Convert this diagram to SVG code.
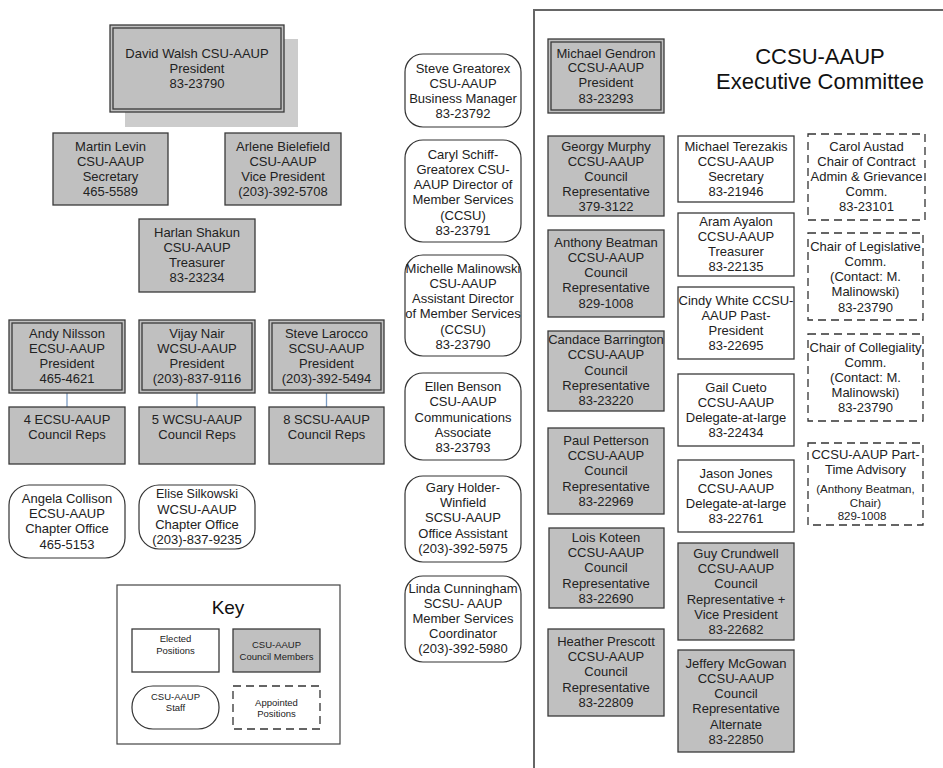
<svg xmlns="http://www.w3.org/2000/svg" width="943" height="768" viewBox="0 0 943 768">
<style>
text{font-family:"Liberation Sans",Arial,sans-serif;font-size:13px;fill:#222;text-anchor:middle}
.box{fill:#c0c0c0;stroke:#3a3a3a;stroke-width:1.3}
.wbox{fill:#fff;stroke:#3a3a3a;stroke-width:1.3}
.inner{fill:none;stroke:#3a3a3a;stroke-width:1.3}
.staff{fill:#fff;stroke:#333;stroke-width:1.2}
.dash{fill:#fff;stroke:#333;stroke-width:1.3;stroke-dasharray:8 5}
.conn{stroke:#7b9cc4;stroke-width:1.3;fill:none}
.sm{font-size:9.5px}
.sm2{font-size:11.5px}
.keyt{font-size:19px;fill:#111}
.title{font-size:22px;fill:#111}
</style>
<rect width="943" height="768" fill="#fff"/>

<g id="connectors">
<line class="conn" x1="67" y1="393" x2="67" y2="407"/>
<line class="conn" x1="197" y1="393" x2="197" y2="407"/>
<line class="conn" x1="326.5" y1="393" x2="326.5" y2="407"/>
</g>

<path d="M534,768 V10 H943" fill="none" stroke="#666" stroke-width="2"/>

<g id="walsh">
<rect x="125" y="39" width="173" height="88" fill="#cccccc"/>
<rect class="box" x="110" y="25" width="174" height="87"/>
<rect class="inner" x="113" y="28" width="168" height="81"/>
<text x="197"><tspan x="197" y="57.5">David Walsh CSU-AAUP</tspan><tspan x="197" y="72.5">President</tspan><tspan x="197" y="87.5">83-23790</tspan></text>
</g>
<g id="levin">
<rect class="box" x="53" y="133" width="115" height="72"/>
<text><tspan x="110.5" y="150.5">Martin Levin</tspan><tspan x="110.5" y="165.5">CSU-AAUP</tspan><tspan x="110.5" y="180.5">Secretary</tspan><tspan x="110.5" y="196">465-5589</tspan></text>
</g>
<g id="bielefield">
<rect class="box" x="225" y="133" width="116" height="72"/>
<text><tspan x="283" y="150.5">Arlene Bielefield</tspan><tspan x="283" y="165.5">CSU-AAUP</tspan><tspan x="283" y="180.5">Vice President</tspan><tspan x="283" y="196">(203)-392-5708</tspan></text>
</g>
<g id="shakun">
<rect class="box" x="139" y="219" width="116" height="73"/>
<text><tspan x="197" y="236.5">Harlan Shakun</tspan><tspan x="197" y="251.5">CSU-AAUP</tspan><tspan x="197" y="266.5">Treasurer</tspan><tspan x="197" y="281.5">83-23234</tspan></text>
</g>
<g id="nilsson">
<rect class="box" x="9" y="320" width="116" height="73"/>
<rect class="inner" x="12" y="323" width="110" height="67"/>
<text><tspan x="67" y="337.5">Andy Nilsson</tspan><tspan x="67" y="352.5">ECSU-AAUP</tspan><tspan x="67" y="367.5">President</tspan><tspan x="67" y="382.5">465-4621</tspan></text>
</g>
<g id="nair">
<rect class="box" x="139" y="320" width="116" height="73"/>
<rect class="inner" x="142" y="323" width="110" height="67"/>
<text><tspan x="197" y="337.5">Vijay Nair</tspan><tspan x="197" y="352.5">WCSU-AAUP</tspan><tspan x="197" y="367.5">President</tspan><tspan x="197" y="382.5">(203)-837-9116</tspan></text>
</g>
<g id="larocco">
<rect class="box" x="269" y="320" width="115" height="73"/>
<rect class="inner" x="272" y="323" width="109" height="67"/>
<text><tspan x="326.5" y="337.5">Steve Larocco</tspan><tspan x="326.5" y="352.5">SCSU-AAUP</tspan><tspan x="326.5" y="367.5">President</tspan><tspan x="326.5" y="382.5">(203)-392-5494</tspan></text>
</g>
<g id="ecsu-reps">
<rect class="box" x="9" y="407" width="116" height="57"/>
<text><tspan x="67" y="423.5">4 ECSU-AAUP</tspan><tspan x="67" y="438.5">Council Reps</tspan></text>
</g>
<g id="wcsu-reps">
<rect class="box" x="139" y="407" width="116" height="57"/>
<text><tspan x="197" y="423.5">5 WCSU-AAUP</tspan><tspan x="197" y="438.5">Council Reps</tspan></text>
</g>
<g id="scsu-reps">
<rect class="box" x="269" y="407" width="115" height="57"/>
<text><tspan x="326.5" y="423.5">8 SCSU-AAUP</tspan><tspan x="326.5" y="438.5">Council Reps</tspan></text>
</g>
<g id="collison">
<rect class="staff" x="9" y="485" width="116" height="73" rx="20"/>
<text><tspan x="67" y="502.5">Angela Collison</tspan><tspan x="67" y="517.5">ECSU-AAUP</tspan><tspan x="67" y="533">Chapter Office</tspan><tspan x="67" y="548.5">465-5153</tspan></text>
</g>
<g id="silkowski">
<rect class="staff" x="139" y="485" width="116" height="64" rx="20"/>
<text><tspan x="197" y="498" font-size="12.5">Elise Silkowski</tspan><tspan x="197" y="513.5">WCSU-AAUP</tspan><tspan x="197" y="528.5">Chapter Office</tspan><tspan x="197" y="543.5">(203)-837-9235</tspan></text>
</g>

<g id="key">
<rect x="117" y="585" width="223" height="159" fill="#fff" stroke="#444" stroke-width="1.2"/>
<text class="keyt" x="228" y="614">Key</text>
<rect class="wbox" x="132" y="629" width="87" height="43"/>
<text class="sm"><tspan x="175.5" y="642">Elected</tspan><tspan x="175.5" y="653.5">Positions</tspan></text>
<rect class="box" x="233" y="629" width="87" height="43"/>
<text class="sm"><tspan x="276.5" y="647.5">CSU-AAUP</tspan><tspan x="276.5" y="659.5">Council Members</tspan></text>
<rect class="staff" x="132" y="686" width="87" height="43" rx="21"/>
<text class="sm"><tspan x="175.5" y="699.5">CSU-AAUP</tspan><tspan x="175.5" y="710.5">Staff</tspan></text>
<rect class="dash" x="233" y="686" width="87" height="43"/>
<text class="sm"><tspan x="276.5" y="705.5">Appointed</tspan><tspan x="276.5" y="716.5">Positions</tspan></text>
</g>

<g id="greatorex">
<rect class="staff" x="405" y="54" width="116" height="73" rx="18"/>
<text><tspan x="463" y="72.5">Steve Greatorex</tspan><tspan x="463" y="87.5">CSU-AAUP</tspan><tspan x="463" y="102.5">Business Manager</tspan><tspan x="463" y="117.5">83-23792</tspan></text>
</g>
<g id="schiff">
<rect class="staff" x="405" y="140" width="116" height="102" rx="18"/>
<text><tspan x="463" y="158.5">Caryl Schiff-</tspan><tspan x="463" y="173.8">Greatorex CSU-</tspan><tspan x="463" y="189.1">AAUP Director of</tspan><tspan x="463" y="204.4">Member Services</tspan><tspan x="463" y="219.7">(CCSU)</tspan><tspan x="463" y="235">83-23791</tspan></text>
</g>
<g id="malinowski">
<rect class="staff" x="405" y="255" width="116" height="101" rx="18"/>
<text><tspan x="463" y="272.5">Michelle Malinowski</tspan><tspan x="463" y="287.5">CSU-AAUP</tspan><tspan x="463" y="302.5">Assistant Director</tspan><tspan x="463" y="318">of Member Services</tspan><tspan x="463" y="333.5">(CCSU)</tspan><tspan x="463" y="348.5">83-23790</tspan></text>
</g>
<g id="benson">
<rect class="staff" x="405" y="373" width="116" height="87" rx="18"/>
<text><tspan x="463" y="390.5">Ellen Benson</tspan><tspan x="463" y="406">CSU-AAUP</tspan><tspan x="463" y="421.5">Communications</tspan><tspan x="463" y="436.5">Associate</tspan><tspan x="463" y="452">83-23793</tspan></text>
</g>
<g id="holder">
<rect class="staff" x="405" y="476" width="116" height="86" rx="18"/>
<text><tspan x="463" y="491.5">Gary Holder-</tspan><tspan x="463" y="506.5">Winfield</tspan><tspan x="463" y="522">SCSU-AAUP</tspan><tspan x="463" y="537.5">Office Assistant</tspan><tspan x="463" y="552.5">(203)-392-5975</tspan></text>
</g>
<g id="cunningham">
<rect class="staff" x="405" y="576" width="116" height="86" rx="18"/>
<text><tspan x="463" y="592.5">Linda Cunningham</tspan><tspan x="463" y="607.5">SCSU- AAUP</tspan><tspan x="463" y="622.5">Member Services</tspan><tspan x="463" y="638">Coordinator</tspan><tspan x="463" y="652.5">(203)-392-5980</tspan></text>
</g>

<g id="title">
<text class="title"><tspan x="820" y="64">CCSU-AAUP</tspan><tspan x="820" y="89">Executive Committee</tspan></text>
</g>
<g id="gendron">
<rect class="box" x="548" y="39" width="116" height="74"/>
<rect class="inner" x="551" y="42" width="110" height="68"/>
<text><tspan x="606" y="57.5">Michael Gendron</tspan><tspan x="606" y="72">CCSU-AAUP</tspan><tspan x="606" y="87">President</tspan><tspan x="606" y="102.5">83-23293</tspan></text>
</g>
<g id="murphy">
<rect class="box" x="548" y="136" width="116" height="80"/>
<text><tspan x="606" y="150.5">Georgy Murphy</tspan><tspan x="606" y="165.5">CCSU-AAUP</tspan><tspan x="606" y="180.5">Council</tspan><tspan x="606" y="195.5">Representative</tspan><tspan x="606" y="211">379-3122</tspan></text>
</g>
<g id="terezakis">
<rect class="wbox" x="678" y="136" width="116" height="66"/>
<text><tspan x="736" y="150.5">Michael Terezakis</tspan><tspan x="736" y="165.5">CCSU-AAUP</tspan><tspan x="736" y="180.5">Secretary</tspan><tspan x="736" y="195.5">83-21946</tspan></text>
</g>
<g id="austad">
<rect class="dash" x="808" y="134" width="117" height="86"/>
<text><tspan x="866.5" y="150.5">Carol Austad</tspan><tspan x="866.5" y="165.5">Chair of Contract</tspan><tspan x="866.5" y="180.5">Admin &amp; Grievance</tspan><tspan x="866.5" y="195.5">Comm.</tspan><tspan x="866.5" y="211">83-23101</tspan></text>
</g>
<g id="ayalon">
<rect class="wbox" x="678" y="213" width="116" height="63"/>
<text><tspan x="736" y="225.5">Aram Ayalon</tspan><tspan x="736" y="240.5">CCSU-AAUP</tspan><tspan x="736" y="255.5">Treasurer</tspan><tspan x="736" y="271">83-22135</tspan></text>
</g>
<g id="beatman">
<rect class="box" x="548" y="230" width="116" height="87"/>
<text><tspan x="606" y="246.5">Anthony Beatman</tspan><tspan x="606" y="261.5">CCSU-AAUP</tspan><tspan x="606" y="276.5">Council</tspan><tspan x="606" y="292">Representative</tspan><tspan x="606" y="307.5">829-1008</tspan></text>
</g>
<g id="white">
<rect class="wbox" x="678" y="287" width="116" height="72"/>
<text><tspan x="736" y="304.5">Cindy White CCSU-</tspan><tspan x="736" y="319.5">AAUP Past-</tspan><tspan x="736" y="334.5">President</tspan><tspan x="736" y="350">83-22695</tspan></text>
</g>
<g id="legislative">
<rect class="dash" x="808" y="233" width="115" height="87"/>
<text><tspan x="865.5" y="250.5">Chair of Legislative</tspan><tspan x="865.5" y="265.5">Comm.</tspan><tspan x="865.5" y="281">(Contact: M.</tspan><tspan x="865.5" y="296">Malinowski)</tspan><tspan x="865.5" y="311.5">83-23790</tspan></text>
</g>
<g id="barrington">
<rect class="box" x="548" y="331" width="116" height="80"/>
<text><tspan x="606" y="343.5">Candace Barrington</tspan><tspan x="606" y="359">CCSU-AAUP</tspan><tspan x="606" y="374.5">Council</tspan><tspan x="606" y="389.5">Representative</tspan><tspan x="606" y="405">83-23220</tspan></text>
</g>
<g id="cueto">
<rect class="wbox" x="678" y="374" width="116" height="72"/>
<text><tspan x="736" y="391.5">Gail Cueto</tspan><tspan x="736" y="406.5">CCSU-AAUP</tspan><tspan x="736" y="421.5">Delegate-at-large</tspan><tspan x="736" y="437">83-22434</tspan></text>
</g>
<g id="collegiality">
<rect class="dash" x="808" y="334" width="115" height="87"/>
<text><tspan x="865.5" y="351.5">Chair of Collegiality</tspan><tspan x="865.5" y="366.5">Comm.</tspan><tspan x="865.5" y="381.5">(Contact: M.</tspan><tspan x="865.5" y="396.5">Malinowski)</tspan><tspan x="865.5" y="412">83-23790</tspan></text>
</g>
<g id="petterson">
<rect class="box" x="548" y="428" width="116" height="86"/>
<text><tspan x="606" y="444.5">Paul Petterson</tspan><tspan x="606" y="459.5">CCSU-AAUP</tspan><tspan x="606" y="475">Council</tspan><tspan x="606" y="490.5">Representative</tspan><tspan x="606" y="505.5">83-22969</tspan></text>
</g>
<g id="jones">
<rect class="wbox" x="678" y="460" width="116" height="72"/>
<text><tspan x="736" y="477.5">Jason Jones</tspan><tspan x="736" y="492.5">CCSU-AAUP</tspan><tspan x="736" y="507.5">Delegate-at-large</tspan><tspan x="736" y="522.5">83-22761</tspan></text>
</g>
<g id="parttime">
<rect class="dash" x="808" y="443" width="115" height="82"/>
<text><tspan x="865.5" y="458.5">CCSU-AAUP Part-</tspan><tspan x="865.5" y="473.5">Time Advisory</tspan></text>
<text class="sm2"><tspan x="865.5" y="493">(Anthony Beatman,</tspan><tspan x="865.5" y="507">Chair)</tspan><tspan x="862" y="520">829-1008</tspan></text>
</g>
<g id="koteen">
<rect class="box" x="549" y="528" width="115" height="80"/>
<text><tspan x="606" y="541.5">Lois Koteen</tspan><tspan x="606" y="556.5">CCSU-AAUP</tspan><tspan x="606" y="572">Council</tspan><tspan x="606" y="587.5">Representative</tspan><tspan x="606" y="603">83-22690</tspan></text>
</g>
<g id="prescott">
<rect class="box" x="548" y="629" width="116" height="87"/>
<text><tspan x="606" y="645.5">Heather Prescott</tspan><tspan x="606" y="660.5">CCSU-AAUP</tspan><tspan x="606" y="676">Council</tspan><tspan x="606" y="691.5">Representative</tspan><tspan x="606" y="707">83-22809</tspan></text>
</g>
<g id="crundwell">
<rect class="box" x="678" y="543" width="116" height="97"/>
<text><tspan x="736" y="557.5">Guy Crundwell</tspan><tspan x="736" y="572.5">CCSU-AAUP</tspan><tspan x="736" y="588">Council</tspan><tspan x="736" y="603.5">Representative +</tspan><tspan x="736" y="618.5">Vice President</tspan><tspan x="736" y="633.5">83-22682</tspan></text>
</g>
<g id="mcgowan">
<rect class="box" x="678" y="650" width="116" height="102"/>
<text><tspan x="736" y="667.5">Jeffery McGowan</tspan><tspan x="736" y="682.5">CCSU-AAUP</tspan><tspan x="736" y="697.5">Council</tspan><tspan x="736" y="713">Representative</tspan><tspan x="736" y="728.5">Alternate</tspan><tspan x="736" y="743.5">83-22850</tspan></text>
</g>
</svg>
